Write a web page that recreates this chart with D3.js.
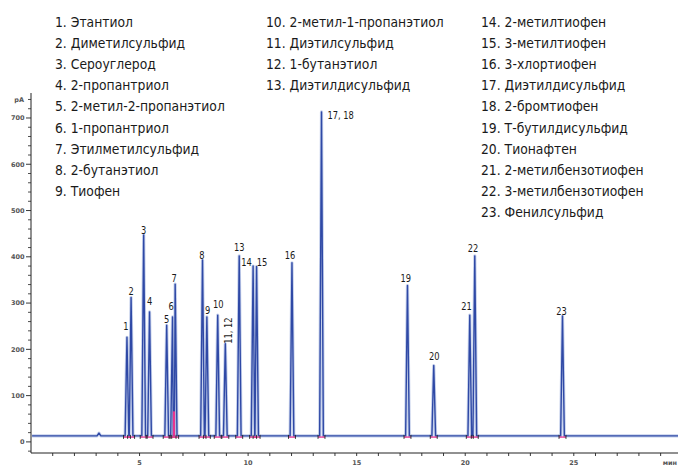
<!DOCTYPE html>
<html>
<head>
<meta charset="utf-8">
<script src="https://cdn.jsdelivr.net/npm/d3@7"></script>
<style>
  html, body { margin: 0; padding: 0; background: #fff; }
  svg { display: block; }
  .legend text { font-family: 'DejaVu Sans Condensed', 'DejaVu Sans', sans-serif; font-stretch: condensed; font-size: 14.5px; fill: #1a1a1a; }
  .plabel { font-family: 'DejaVu Sans Condensed', 'DejaVu Sans', sans-serif; font-stretch: condensed; font-size: 10.5px; fill: #1a1a1a; }
  .tick-label { font-family: 'DejaVu Sans', sans-serif; font-size: 6.5px; fill: #555; font-weight: bold; }
</style>
</head>
<body>
<svg id="chart" width="678" height="466"></svg>
<script>
// Compound names, in elution order
const compounds = [
  "Этантиол", "Диметилсульфид", "Сероуглерод", "2-пропантриол",
  "2-метил-2-пропанэтиол", "1-пропантриол", "Этилметилсульфид",
  "2-бутанэтиол", "Тиофен", "2-метил-1-пропанэтиол", "Диэтилсульфид",
  "1-бутанэтиол", "Диэтилдисульфид", "2-метилтиофен", "3-метилтиофен",
  "3-хлортиофен", "Диэтилдисульфид", "2-бромтиофен", "Т-бутилдисульфид",
  "Тионафтен", "2-метилбензотиофен", "3-метилбензотиофен", "Фенилсульфид"
];
// Rows per legend column
const legendColumns = [9, 4, 10];

// Peaks: label, retention time (min), apex signal (pA)
const peakLabels  = ["1", "2", "3", "4", "5", "6", "7", "8", "9", "10", "11, 12", "13", "14", "15", "16", "17, 18", "19", "20", "21", "22", "23"];
const peakTimes   = [4.42, 4.61, 5.19, 5.46, 6.25, 6.52, 6.64, 7.90, 8.10, 8.60, 8.95, 9.59, 10.23, 10.39, 12.02, 13.38, 17.34, 18.55, 20.21, 20.44, 24.48];
const peakHeights = [226, 312, 447, 281, 252, 270, 341, 393, 270, 274, 212, 402, 380, 379, 387, 713, 338, 165, 274, 402, 272];

// Detector baseline level and a small early disturbance
const baselineLevel = 13;
const bumpTime = 3.13, bumpHeight = 19;
// Unresolved valley between peaks 6 and 7 (drop line)
const dropTime = 6.585, dropHeight = 66;

// Axis ticks
const xMajorTicks = [5, 10, 15, 20, 25];
const xMinorTicks = d3.range(1, 30);
const yMajorTicks = [0, 100, 200, 300, 400, 500, 600, 700];
const yMinorTicks = d3.range(-20, 760, 20);

const svg = d3.select("#chart");
const x = d3.scaleLinear().domain([0, 29.8]).range([31, 678]);
const y = d3.scaleLinear().domain([-24, 754]).range([453, 93]);

// Horizontally condense text elements so that the reference element is `target` wide
function condense(sel, target, ref) {
  const w = ref.node().getComputedTextLength();
  const k = target / w;
  sel.each(function () {
    const t = d3.select(this);
    const tx = +t.attr("data-x"), ty = +t.attr("data-y");
    t.attr("x", 0).attr("y", 0)
     .attr("transform", `translate(${tx},${ty}) scale(${k},1)`);
  });
}

// ---- Legend ----
const legend = svg.append("g").attr("class", "legend");
const colX = [55, 266, 481];
let idx = 0;
legendColumns.forEach((n, c) => {
  for (let r = 0; r < n; r++, idx++) {
    legend.append("text")
      .attr("data-x", colX[c])
      .attr("data-y", 26.5 + r * 21.2)
      .text((idx + 1) + ". " + compounds[idx]);
  }
});
const legendTexts = legend.selectAll("text");
condense(legendTexts, 170, d3.select(legendTexts.nodes()[4]));

// ---- Axes ----
const axes = svg.append("g");
axes.append("line").attr("x1", 31).attr("x2", 678).attr("y1", 453).attr("y2", 453)
  .attr("stroke", "#222").attr("stroke-width", 1);
axes.append("line").attr("x1", 31).attr("x2", 31).attr("y1", 93).attr("y2", 453)
  .attr("stroke", "#222").attr("stroke-width", 1);

axes.selectAll(".xt").data(xMinorTicks).join("line")
  .attr("x1", d => x(d)).attr("x2", d => x(d))
  .attr("y1", 453).attr("y2", 456)
  .attr("stroke", "#222").attr("stroke-width", 0.9);
axes.selectAll(".xl").data(xMajorTicks).join("text")
  .attr("class", "tick-label")
  .attr("x", d => x(d)).attr("y", 464.5)
  .attr("text-anchor", "middle")
  .text(d => d);
axes.append("text").attr("class", "tick-label")
  .attr("x", 677).attr("y", 464.5).attr("text-anchor", "end").text("мин");

axes.selectAll(".ym").data(yMinorTicks.filter(v => !yMajorTicks.includes(v))).join("line")
  .attr("x1", 28).attr("x2", 31)
  .attr("y1", d => y(d)).attr("y2", d => y(d))
  .attr("stroke", "#222").attr("stroke-width", 0.8);
axes.selectAll(".yM").data(yMajorTicks).join("line")
  .attr("x1", 26).attr("x2", 31)
  .attr("y1", d => y(d)).attr("y2", d => y(d))
  .attr("stroke", "#222").attr("stroke-width", 0.9);
axes.selectAll(".yl").data(yMajorTicks).join("text")
  .attr("class", "tick-label")
  .attr("x", 24.5).attr("y", d => y(d) + 2.3)
  .attr("text-anchor", "end")
  .text(d => d);
axes.append("text").attr("class", "tick-label")
  .attr("x", 24).attr("y", 102).attr("text-anchor", "end").text("pA");

// ---- Chromatogram trace ----
const halfWidth = 0.085;
const pts = [[0.05, baselineLevel], [29.8, baselineLevel],
  [bumpTime - 0.09, baselineLevel], [bumpTime, bumpHeight], [bumpTime + 0.09, baselineLevel]];
peakTimes.forEach((t, i) => {
  pts.push([t - halfWidth, baselineLevel], [t, peakHeights[i]], [t + halfWidth, baselineLevel]);
});
pts.sort((a, b) => a[0] - b[0]);
const line = d3.line().x(d => x(d[0])).y(d => y(d[1]));

svg.append("path").datum(pts).attr("d", line)
  .attr("fill", "none").attr("stroke", "#9fb0de").attr("stroke-width", 3.2)
  .attr("stroke-linejoin", "round").attr("opacity", 0.6);
svg.append("path").datum(pts).attr("d", line)
  .attr("fill", "none").attr("stroke", "#2f49a6").attr("stroke-width", 1.4)
  .attr("stroke-linejoin", "round");

// integration baselines (pink) under each peak
const integ = svg.append("g");
integ.selectAll("line").data(peakTimes).join("line")
  .attr("x1", d => x(d - 0.16)).attr("x2", d => x(d + 0.16))
  .attr("y1", y(baselineLevel) + 1.2).attr("y2", y(baselineLevel) + 1.2)
  .attr("stroke", "#e8358f").attr("stroke-width", 1.3);
integ.append("line")
  .attr("x1", x(dropTime)).attr("x2", x(dropTime))
  .attr("y1", y(baselineLevel)).attr("y2", y(dropHeight))
  .attr("stroke", "#e8358f").attr("stroke-width", 2.2);

// peak start/end markers
const marks = svg.append("g");
peakTimes.forEach(t => {
  [t - 0.16, t + 0.16].forEach(m => {
    marks.append("line")
      .attr("x1", x(m)).attr("x2", x(m))
      .attr("y1", y(baselineLevel) - 1).attr("y2", y(baselineLevel) + 3)
      .attr("stroke", "#222").attr("stroke-width", 0.9);
  });
});

// ---- Peak labels ----
const labelOffsets = {
  "1": [-1, -11], "2": [0, -6.5], "3": [0, -5], "4": [0, -11], "5": [0, -6.5],
  "6": [-1.4, -10.7], "7": [-1, -6], "8": [-0.7, -5], "9": [0.7, -7], "10": [0.6, -11.3],
  "13": [0, -8.7], "14": [-6.6, -4], "15": [5.5, -4.7], "16": [-2, -8],
  "19": [-1.7, -7.4], "20": [0.5, -9], "21": [-3.3, -9], "22": [-1.7, -7.4], "23": [-1, -5]
};
const labels = svg.append("g");
const lk = 0.88;
peakLabels.forEach((lab, i) => {
  const px = x(peakTimes[i]), py = y(peakHeights[i]);
  if (lab === "11, 12") {
    labels.append("text").attr("class", "plabel")
      .attr("transform", `translate(${px + 6.5},${py}) rotate(-90) scale(${lk},1)`)
      .text(lab);
  } else if (lab === "17, 18") {
    labels.append("text").attr("class", "plabel")
      .attr("transform", `translate(${px + 6},${py + 3.3}) scale(${lk},1)`)
      .attr("dominant-baseline", "central")
      .text(lab);
  } else {
    const o = labelOffsets[lab];
    labels.append("text").attr("class", "plabel")
      .attr("transform", `translate(${px + o[0]},${py + o[1]}) scale(${lk},1)`)
      .attr("text-anchor", "middle")
      .attr("dominant-baseline", "central")
      .text(lab);
  }
});
</script>
</body>
</html>
